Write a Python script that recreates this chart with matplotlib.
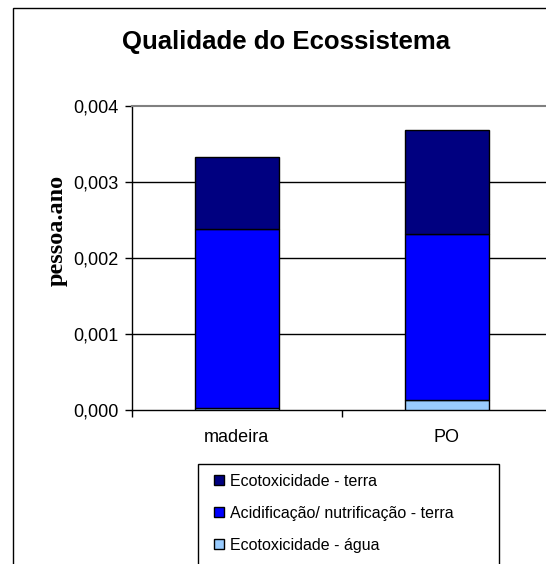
import matplotlib
matplotlib.use("Agg")
import matplotlib.pyplot as plt
from matplotlib.patches import Rectangle
from matplotlib.ticker import FuncFormatter, FixedLocator

plt.rcParams['font.family'] = ['Liberation Sans', 'DejaVu Sans']

categories = ['madeira', 'PO']
eco_agua = [0.00003, 0.00013]
acid_terra = [0.002355, 0.00218]
eco_terra = [0.000945, 0.00137]

series = [
    ('Ecotoxicidade - água', eco_agua, '#99CCFF'),
    ('Acidificação/ nutrificação - terra', acid_terra, '#0000FF'),
    ('Ecotoxicidade - terra', eco_terra, '#000080'),
]

W, H = 546, 564
fig = plt.figure(figsize=(W / 100, H / 100), dpi=100)

# outer chart frame, runs off the right and bottom edges
fig.patches.append(Rectangle((12.5 / W, -0.1), 1.2, 1 - 7.5 / H + 0.1,
                             transform=fig.transFigure, fill=False,
                             edgecolor='black', linewidth=1.0))

ax = fig.add_axes([131.5 / W, 1 - 410 / H, 420 / W, 304 / H])

x = range(len(categories))
bottom = [0.0] * len(categories)
handles = {}
for name, vals, color in series:
    b = ax.bar(x, vals, width=0.4, bottom=bottom, color=color,
               edgecolor='black', linewidth=1.0, zorder=3)
    handles[name] = b
    bottom = [p + v for p, v in zip(bottom, vals)]

ax.set_xlim(-0.5, 1.5)
ax.set_ylim(0, 0.004)
ax.set_yticks([0, 0.001, 0.002, 0.003, 0.004])
ax.yaxis.set_major_formatter(FuncFormatter(lambda v, p: f"{v:.3f}".replace('.', ',')))
ax.tick_params(axis='y', direction='out', length=5, width=1, pad=4,
               labelsize=13, colors='black')

# category separators as ticks, names centred under the bars
ax.xaxis.set_major_locator(FixedLocator([-0.5, 0.5, 1.5]))
ax.xaxis.set_minor_locator(FixedLocator(list(x)))
ax.set_xticklabels(['', '', ''])
ax.set_xticklabels(categories, minor=True)
ax.tick_params(axis='x', which='major', direction='out', length=5, width=1)
ax.tick_params(axis='x', which='minor', length=0, pad=14, labelsize=13)

for yv in [0.001, 0.002, 0.003]:
    ax.axhline(yv, color='black', linewidth=1.0, zorder=1)

ax.spines['top'].set_color('#808080')
ax.spines['top'].set_linewidth(1.5)
ax.spines['right'].set_visible(False)
ax.spines['left'].set_linewidth(1.0)
ax.spines['bottom'].set_linewidth(1.0)

fig.text(286.5 / W, 1 - 42 / H, 'Qualidade do Ecossistema', ha='center',
         va='center', fontsize=18.5, fontweight='bold')
fig.text(57 / W, 1 - 230 / H, 'pessoa.ano', rotation=90, ha='center',
         va='center', fontsize=17.5, fontweight='bold',
         family=['Liberation Serif', 'DejaVu Serif'])

# legend box, cut by the bottom edge
fig.patches.append(Rectangle((198 / W, -0.1), 301 / W, 1 - 464 / H + 0.1,
                             transform=fig.transFigure, fill=False,
                             edgecolor='black', linewidth=1.0))
order = ['Ecotoxicidade - terra', 'Acidificação/ nutrificação - terra',
         'Ecotoxicidade - água']
leg = fig.legend([handles[n] for n in order], order,
                 loc='upper left', bbox_to_anchor=(214 / W, 1 - 474 / H),
                 bbox_transform=fig.transFigure, frameon=False,
                 fontsize=11.5, handlelength=0.6, handleheight=0.6,
                 handletextpad=0.4, labelspacing=1.05, borderpad=0,
                 borderaxespad=0)

fig.savefig('out.png', dpi=100)
